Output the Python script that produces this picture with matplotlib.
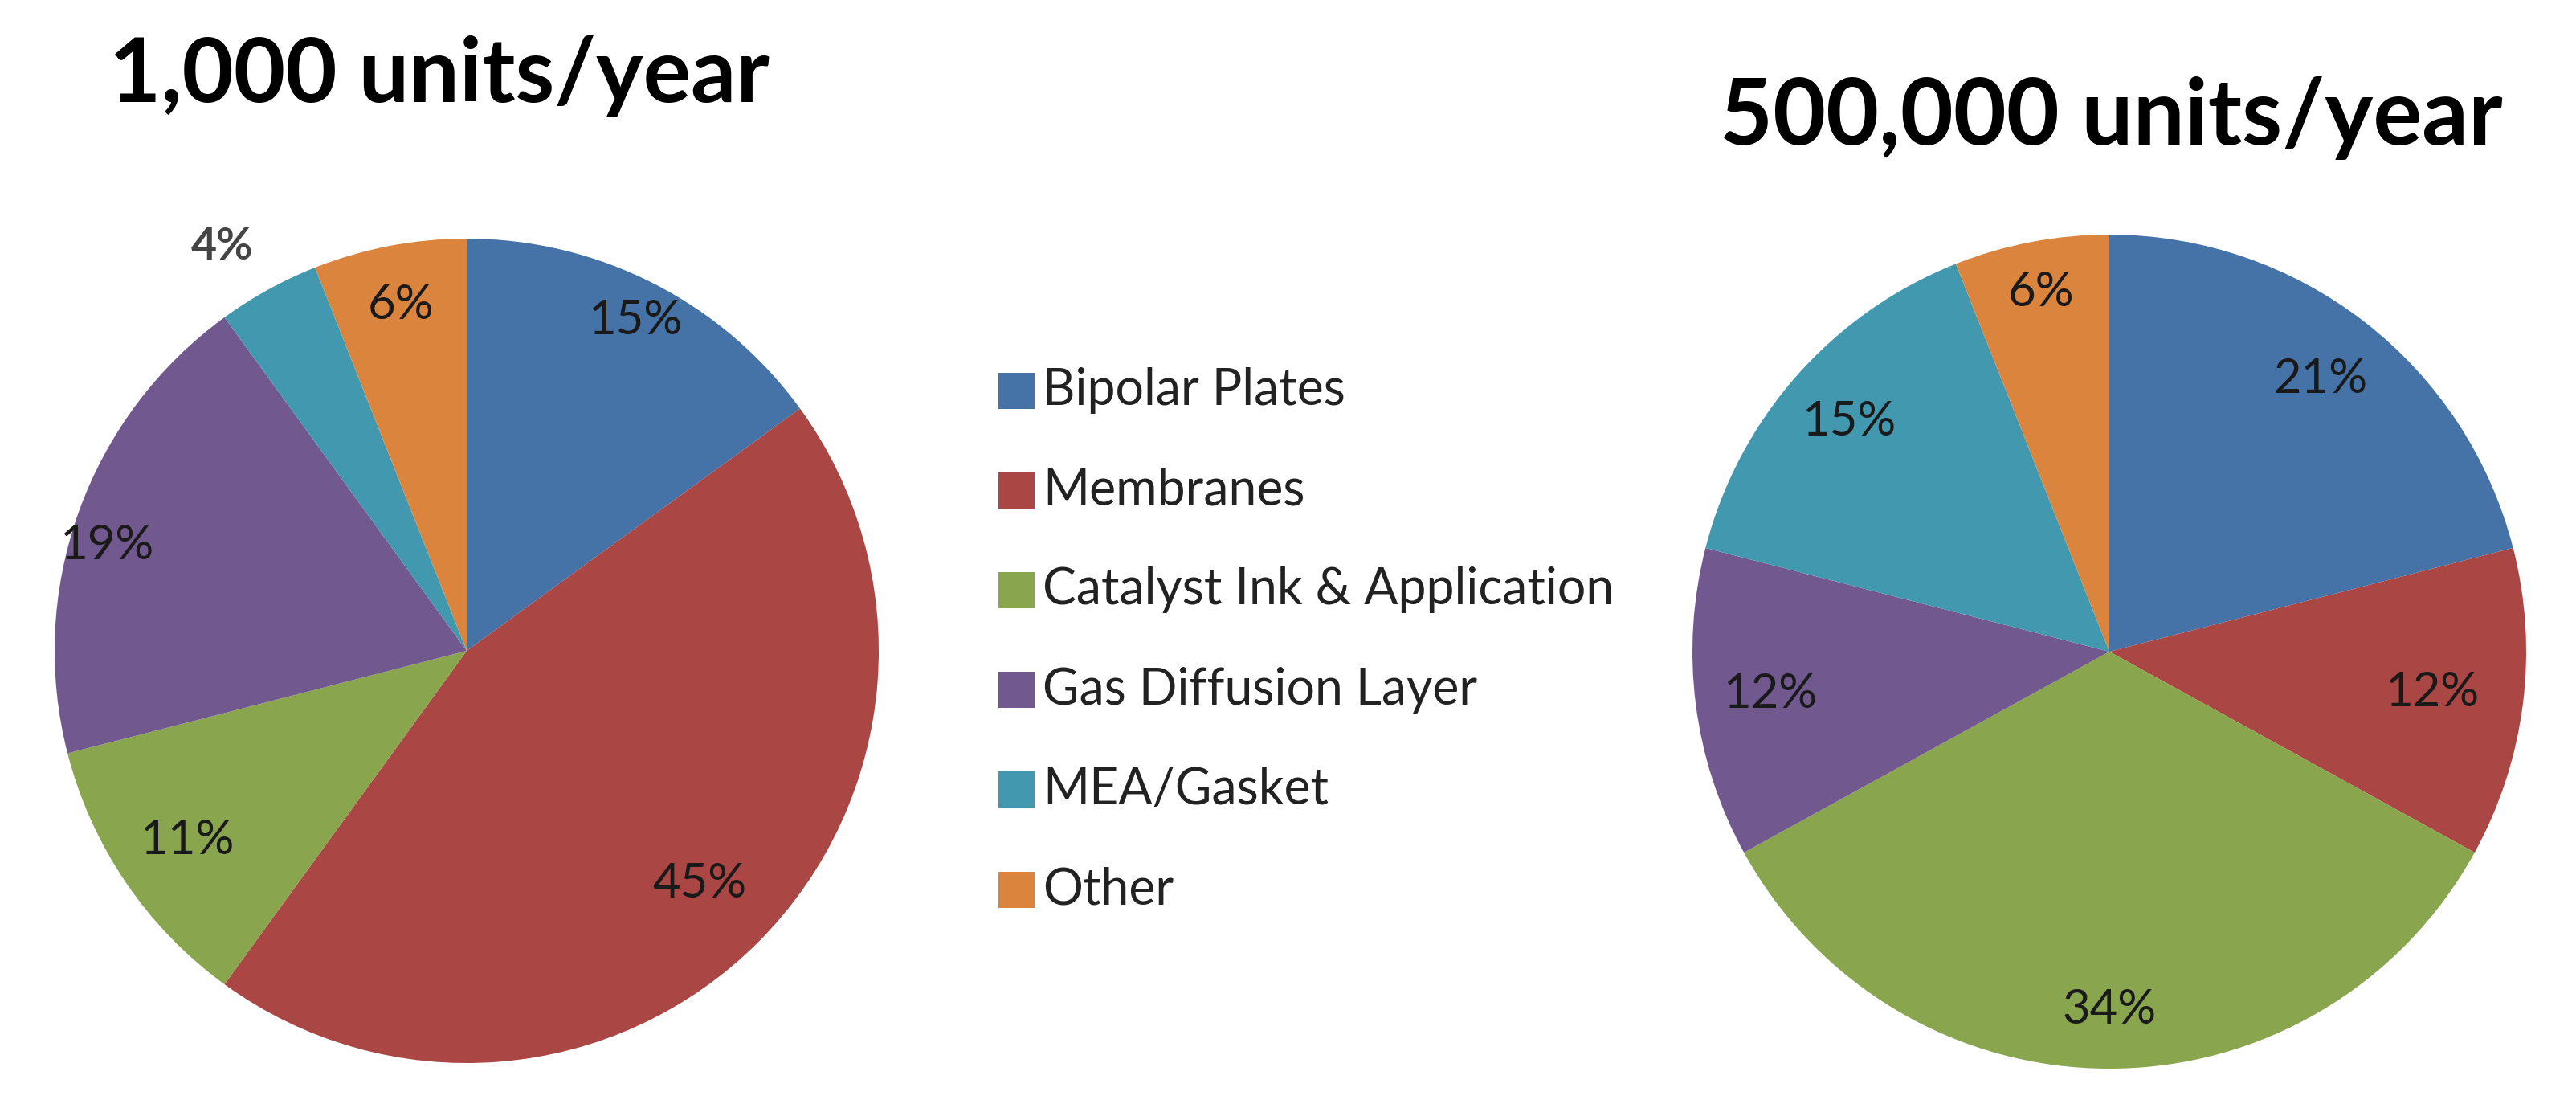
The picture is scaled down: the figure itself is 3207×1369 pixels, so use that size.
import numpy as np
import matplotlib.pyplot as plt
from matplotlib.patches import Rectangle

categories = ['Bipolar Plates', 'Membranes', 'Catalyst Ink & Application',
              'Gas Diffusion Layer', 'MEA/Gasket', 'Other']
low_volume = [15, 45, 11, 19, 4, 6]      # 1,000 units/year
high_volume = [21, 12, 34, 12, 15, 6]    # 500,000 units/year
titles = ['1,000 units/year', '500,000 units/year']

colors = ['#4572A7', '#AA4643', '#89A54E', '#71588F', '#4198AF', '#DB843D']

W, H = 3207, 1369
plt.rcParams['font.family'] = ['Lato', 'DejaVu Sans']
fig = plt.figure(figsize=(W / 100, H / 100), dpi=100)


def pie_axes(cx, cy, r):
    # cx, cy, r in pixels, measured from top-left
    ax = fig.add_axes([(cx - r) / W, (H - cy - r) / H, 2 * r / W, 2 * r / H])
    ax.axis('off')
    return ax


def draw_pie(ax, values, dists, shifts, outside):
    ax.pie(values, colors=colors, startangle=90, counterclock=False,
           radius=1, wedgeprops=dict(linewidth=0))
    ax.set_xlim(-1, 1)
    ax.set_ylim(-1, 1)
    ax.set_aspect('equal')
    total = sum(values)
    start = 90.0
    for v, d, s, out in zip(values, dists, shifts, outside):
        span = 360.0 * v / total
        mid = np.deg2rad(start - span / 2 + s)
        start -= span
        x, y = d * np.cos(mid), d * np.sin(mid)
        if out:
            ax.text(x, y, '%d%%' % v, ha='center', va='center', fontsize=40,
                    fontweight='bold', color='#444444', clip_on=False)
        else:
            ax.text(x, y, '%d%%' % v, ha='center', va='center', fontsize=43,
                    color='#1a1a1a', clip_on=False)


ax1 = pie_axes(581, 810, 513)
draw_pie(ax1, low_volume,
         [0.90, 0.80, 0.82, 0.91, 1.146, 0.853],
         [0, 0, 0, 3.5, 2.4, 0],
         [False, False, False, False, True, False])

ax2 = pie_axes(2626, 811, 519)
draw_pie(ax2, high_volume,
         [0.827, 0.78, 0.86, 0.82, 0.834, 0.877],
         [0] * 6,
         [False] * 6)

fig.text(547 / W, 1 - 127 / H, titles[0], ha='center', va='baseline',
         fontsize=80, fontweight='bold', color='black')
fig.text(2628 / W, 1 - 180 / H, titles[1], ha='center', va='baseline',
         fontsize=82, fontweight='bold', color='black')

# legend, drawn by hand so the rows sit where the original has them
sq = 45
for i, (name, c) in enumerate(zip(categories, colors)):
    yc = 486 + 124.2 * i
    fig.add_artist(Rectangle((1243 / W, 1 - (yc + sq / 2) / H), sq / W, sq / H,
                             transform=fig.transFigure, facecolor=c, edgecolor='none'))
    fig.text(1298 / W, 1 - (yc + 18) / H, name, ha='left', va='baseline',
             fontsize=45, color='#222222')

fig.savefig('out.png', dpi=100, facecolor='white')
